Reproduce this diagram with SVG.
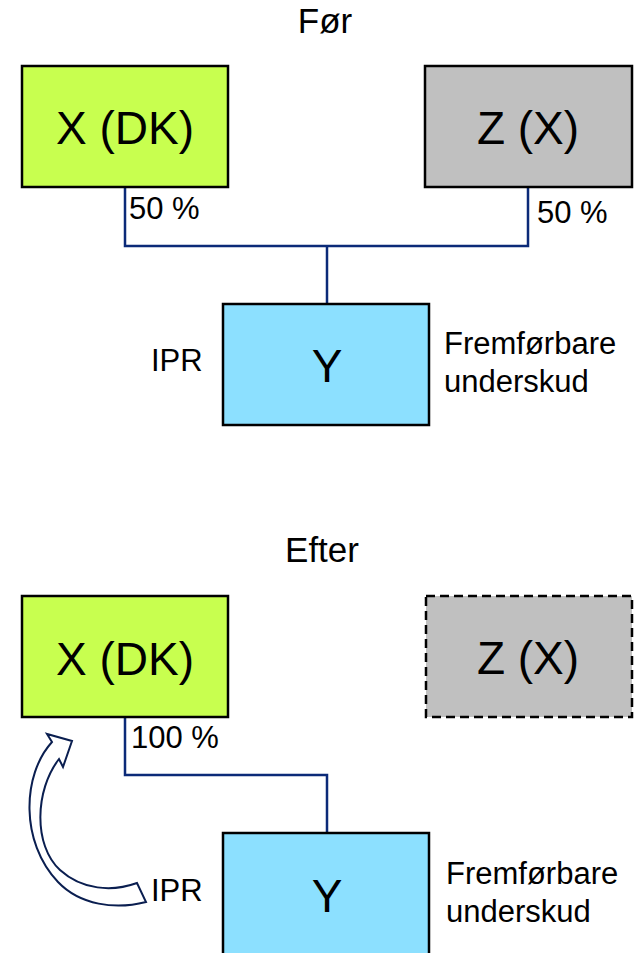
<svg xmlns="http://www.w3.org/2000/svg" width="638" height="953" viewBox="0 0 638 953">
  <style>
    .box { stroke: #000; stroke-width: 2.5; }
    .green { fill: #C8FF4F; }
    .grey { fill: #C0C0C0; }
    .blue { fill: #8CE0FF; }
    .dashed { stroke-dasharray: 9 5; }
    .big { font-family: "Liberation Sans", Arial, sans-serif; font-size: 46px; fill: #000; text-anchor: middle; }
    .title { font-family: "Liberation Sans", Arial, sans-serif; font-size: 35px; fill: #000; text-anchor: middle; }
    .lbl { font-family: "Liberation Sans", Arial, sans-serif; font-size: 31px; fill: #000; }
    .conn { fill: none; stroke: #0B2A78; stroke-width: 2.5; }
  </style>

  <rect width="638" height="953" fill="#fff"/>

  <!-- Before -->
  <text class="title" x="325" y="33">Før</text>

  <g id="connectors-before">
    <polyline class="conn" points="125,187 125,246 528,246 528,187"/>
    <line class="conn" x1="327" y1="246" x2="327" y2="304"/>
  </g>

  <g id="x-dk-before">
    <rect class="box green" x="22" y="66" width="206" height="121"/>
    <text class="big" x="125" y="144">X (DK)</text>
  </g>
  <g id="z-x-before">
    <rect class="box grey" x="425" y="66" width="207" height="121"/>
    <text class="big" x="528" y="144">Z (X)</text>
  </g>
  <g id="y-before">
    <rect class="box blue" x="223" y="304" width="206" height="121"/>
    <text class="big" x="327" y="382">Y</text>
  </g>

  <text class="lbl" x="129" y="219">50 %</text>
  <text class="lbl" x="537" y="223">50 %</text>
  <text class="lbl" x="151" y="371">IPR</text>
  <text class="lbl" x="444" y="354">Fremførbare</text>
  <text class="lbl" x="444" y="392">underskud</text>

  <!-- After -->
  <text class="title" x="322" y="562">Efter</text>

  <g id="connectors-after">
    <polyline class="conn" points="125,717 125,775 327,775 327,833"/>
  </g>

  <g id="x-dk-after">
    <rect class="box green" x="22" y="596" width="206" height="121"/>
    <text class="big" x="125" y="675">X (DK)</text>
  </g>
  <g id="z-x-after">
    <rect class="box grey dashed" x="426" y="596" width="206" height="121"/>
    <text class="big" x="528" y="674">Z (X)</text>
  </g>
  <g id="y-after">
    <rect class="box blue" x="223" y="833" width="206" height="130"/>
    <text class="big" x="327" y="912">Y</text>
  </g>

  <!-- curved transfer arrow -->
  <g id="ipr-transfer">
    <path d="M 52 742 L 47 734 L 72 741 L 63 767 L 59 759 C 35 790, 33 845, 60 870 C 82 890, 112 892, 137 883 L 146 902 C 115 910, 80 905, 58 882 C 20 842, 22 775, 52 742 Z"
          fill="#fff" stroke="#0A1E50" stroke-width="2" stroke-linejoin="miter"/>
  </g>

  <text class="lbl" x="131" y="748">100 %</text>
  <text class="lbl" x="151" y="901">IPR</text>
  <text class="lbl" x="446" y="884">Fremførbare</text>
  <text class="lbl" x="446" y="922">underskud</text>
</svg>
